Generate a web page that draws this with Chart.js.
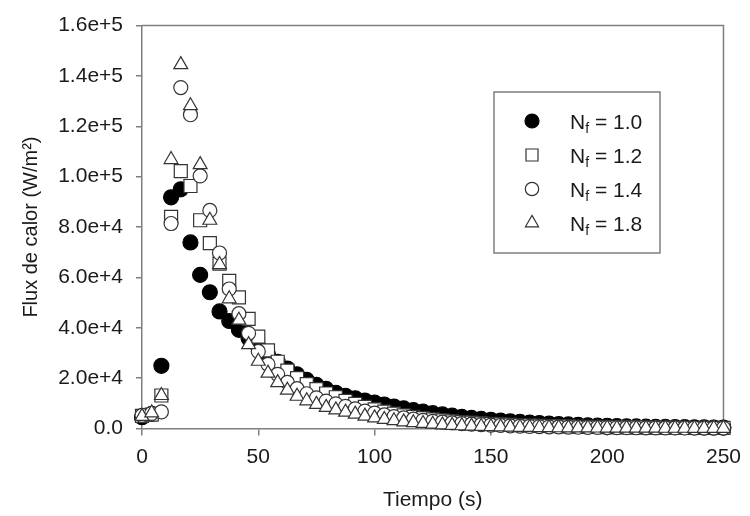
<!DOCTYPE html>
<html><head><meta charset="utf-8">
<script src="https://cdn.jsdelivr.net/npm/chart.js@4.4.0/dist/chart.umd.min.js"></script>
<style>html,body{margin:0;padding:0;background:#fff}canvas{display:block}</style>
</head><body>
<canvas id="c" width="750" height="516"></canvas>
<script>
// ---- data ----
const times = [0, 4.17, 8.33, 12.5, 16.67, 20.83, 25, 29.17, 33.33, 37.5, 41.67, 45.83, 50, 54.17, 58.33, 62.5, 66.67, 70.83, 75, 79.17, 83.33, 87.5, 91.67, 95.83, 100, 104.17, 108.33, 112.5, 116.67, 120.83, 125, 129.17, 133.33, 137.5, 141.67, 145.83, 150, 154.17, 158.33, 162.5, 166.67, 170.83, 175, 179.17, 183.33, 187.5, 191.67, 195.83, 200, 204.17, 208.33, 212.5, 216.67, 220.83, 225, 229.17, 233.33, 237.5, 241.67, 245.83, 250];

const fluxNf10 = [4500, 5800, 24900, 91800, 95000, 73900, 61000, 54100, 46500, 42700, 39200, 35800, 32500, 29400, 26500, 23800, 21500, 19300, 17300, 15700, 14200, 13000, 12000, 11100, 10300, 9500, 8700, 8000, 7300, 6700, 6100, 5600, 5100, 4600, 4200, 3800, 3450, 3150, 2850, 2600, 2350, 2150, 1950, 1750, 1600, 1450, 1300, 1200, 1100, 1000, 900, 820, 750, 680, 620, 570, 520, 480, 440, 400, 370];
const fluxNf12 = [5000, 5500, 13100, 84000, 102200, 96300, 82700, 73600, 65500, 58600, 52100, 43500, 36500, 31000, 26500, 23000, 20000, 17600, 15600, 13900, 12400, 11000, 9800, 8600, 7600, 6700, 5900, 5200, 4600, 4100, 3600, 3200, 2850, 2550, 2300, 2050, 1850, 1650, 1500, 1350, 1200, 1100, 1000, 900, 820, 750, 680, 620, 570, 520, 480, 440, 400, 370, 340, 320, 300, 280, 260, 240, 220];
const fluxNf14 = [5200, 6000, 6600, 81400, 135400, 124600, 100300, 86600, 69700, 55400, 45600, 37800, 30600, 25500, 21500, 18300, 15800, 13800, 12200, 10900, 9800, 8800, 7800, 6900, 6100, 5400, 4750, 4200, 3700, 3250, 2850, 2500, 2200, 1950, 1700, 1500, 1350, 1200, 1050, 950, 850, 760, 680, 610, 550, 500, 450, 410, 370, 340, 310, 290, 270, 250, 230, 215, 200, 190, 180, 170, 160];
const fluxNf18 = [4800, 6200, 13100, 106800, 144500, 128200, 104800, 82700, 65100, 51500, 43000, 33300, 26700, 22000, 18200, 15200, 12800, 11000, 9600, 8400, 7400, 6500, 5700, 4900, 4200, 3600, 3100, 2650, 2300, 2000, 1700, 1450, 1250, 1100, 950, 820, 720, 630, 550, 480, 420, 370, 330, 290, 260, 230, 210, 190, 170, 155, 140, 130, 120, 110, 100, 95, 90, 85, 80, 75, 70];

const seriesValues = ['1.0', '1.2', '1.4', '1.8'];
const xTickValues = [0, 50, 100, 150, 200, 250];
const xTickLabels = ['0', '50', '100', '150', '200', '250'];
const yTickValues = [0, 20000, 40000, 60000, 80000, 100000, 120000, 140000, 160000];
const yTickLabels = ['0.0', '2.0e+4', '4.0e+4', '6.0e+4', '8.0e+4', '1.0e+5', '1.2e+5', '1.4e+5', '1.6e+5'];
const xTitle = 'Tiempo (s)';
const yTitle = 'Flux de calor (W/m\u00B2)';

// ---- styling ----
const FONT = "'Liberation Sans', Arial, sans-serif";
const AXIS = '#7f7f7f';
const TEXT = '#1a1a1a';
const EDGE = '#333333';

const styles = [
  {pointStyle: 'circle', radius: 7.5, bg: '#000000', border: '#000000', lr: 7},
  {pointStyle: 'rect', radius: 9.2, bg: '#ffffff', border: EDGE, lr: 8.5},
  {pointStyle: 'circle', radius: 7, bg: '#ffffff', border: EDGE, lr: 6.7},
  {pointStyle: 'triangle', radius: 8, bg: '#ffffff', border: EDGE, lr: 7.6}
];
const allSeries = [fluxNf10, fluxNf12, fluxNf14, fluxNf18];

const datasets = allSeries.map((vals, k) => ({
  label: 'Nf = ' + seriesValues[k],
  data: times.map((t, i) => ({x: t, y: vals[i]})),
  showLine: false,
  pointStyle: styles[k].pointStyle,
  pointRadius: styles[k].radius,
  pointHoverRadius: styles[k].radius,
  pointBackgroundColor: styles[k].bg,
  pointBorderColor: styles[k].border,
  pointBorderWidth: 1.2,
  backgroundColor: styles[k].bg,
  borderColor: styles[k].border,
  clip: false,
  order: 3 - k
}));

const framePlugin = {
  id: 'frame',
  beforeDatasetsDraw(chart) {
    const {ctx, chartArea: a} = chart;
    ctx.save();
    ctx.strokeStyle = AXIS;
    ctx.lineWidth = 1.5;
    ctx.beginPath();
    ctx.moveTo(a.left, a.top);
    ctx.lineTo(a.right, a.top);
    ctx.lineTo(a.right, a.bottom);
    ctx.stroke();
    ctx.restore();
  }
};

const legendPlugin = {
  id: 'boxLegend',
  afterDraw(chart) {
    const ctx = chart.ctx;
    const bx = 494, by = 92, bw = 166, bh = 161;
    ctx.save();
    ctx.fillStyle = '#ffffff';
    ctx.fillRect(bx, by, bw, bh);
    ctx.strokeStyle = AXIS;
    ctx.lineWidth = 1.5;
    ctx.strokeRect(bx, by, bw, bh);
    const rowY = [121, 155, 189, 223];
    chart.data.datasets.forEach((ds, k) => {
      const y = rowY[k];
      ctx.fillStyle = styles[k].bg;
      ctx.strokeStyle = styles[k].border;
      ctx.lineWidth = 1.2;
      Chart.helpers.drawPoint(ctx, {pointStyle: styles[k].pointStyle, radius: styles[k].lr, borderWidth: 1.2, rotation: 0}, 532, y);
      ctx.fillStyle = TEXT;
      ctx.textBaseline = 'alphabetic';
      ctx.textAlign = 'left';
      ctx.font = '21px ' + FONT;
      const base = y + 7.5;
      ctx.fillText('N', 570, base);
      let x = 570 + ctx.measureText('N').width;
      ctx.font = '14px ' + FONT;
      ctx.fillText('f', x, base + 4);
      x += ctx.measureText('f').width;
      ctx.font = '21px ' + FONT;
      ctx.fillText(' = ' + seriesValues[k], x, base);
    });
    ctx.restore();
  }
};

new Chart(document.getElementById('c'), {
  type: 'scatter',
  data: {datasets},
  options: {
    responsive: false,
    animation: false,
    events: [],
    layout: {padding: {top: 18.7, right: 20.5, left: 0, bottom: 0}},
    plugins: {legend: {display: false}, tooltip: {enabled: false}},
    scales: {
      x: {
        type: 'linear', min: 0, max: 250,
        afterBuildTicks: (s) => { s.ticks = xTickValues.map(v => ({value: v})); },
        afterFit: (s) => { s.height = 87.5; },
        grid: {display: true, drawOnChartArea: false, drawTicks: true, tickLength: 7, color: AXIS, lineWidth: 1.5},
        border: {display: true, color: AXIS, width: 1.5},
        ticks: {
          autoSkip: false, maxRotation: 0, padding: 9, color: TEXT,
          font: {family: FONT, size: 21},
          callback: (v) => { const i = xTickValues.indexOf(v); return i >= 0 ? xTickLabels[i] : ''; }
        },
        title: {display: true, text: xTitle, color: TEXT, font: {family: FONT, size: 21}, padding: {top: 0, bottom: 3}}
      },
      y: {
        type: 'linear', min: 0, max: 160000,
        afterBuildTicks: (s) => { s.ticks = yTickValues.map(v => ({value: v})); },
        afterFit: (s) => { s.width = 142; },
        grid: {display: true, drawOnChartArea: false, drawTicks: true, tickLength: 6, color: AXIS, lineWidth: 1.5},
        border: {display: true, color: AXIS, width: 1.5},
        ticks: {
          autoSkip: false, padding: 13, color: TEXT,
          font: {family: FONT, size: 21},
          callback: (v) => { const i = yTickValues.indexOf(v); return i >= 0 ? yTickLabels[i] : ''; }
        },
        title: {display: true, text: yTitle, color: TEXT, font: {family: FONT, size: 20}, padding: {top: 19, bottom: 0}}
      }
    }
  },
  plugins: [framePlugin, legendPlugin]
});
</script>
</body></html>
